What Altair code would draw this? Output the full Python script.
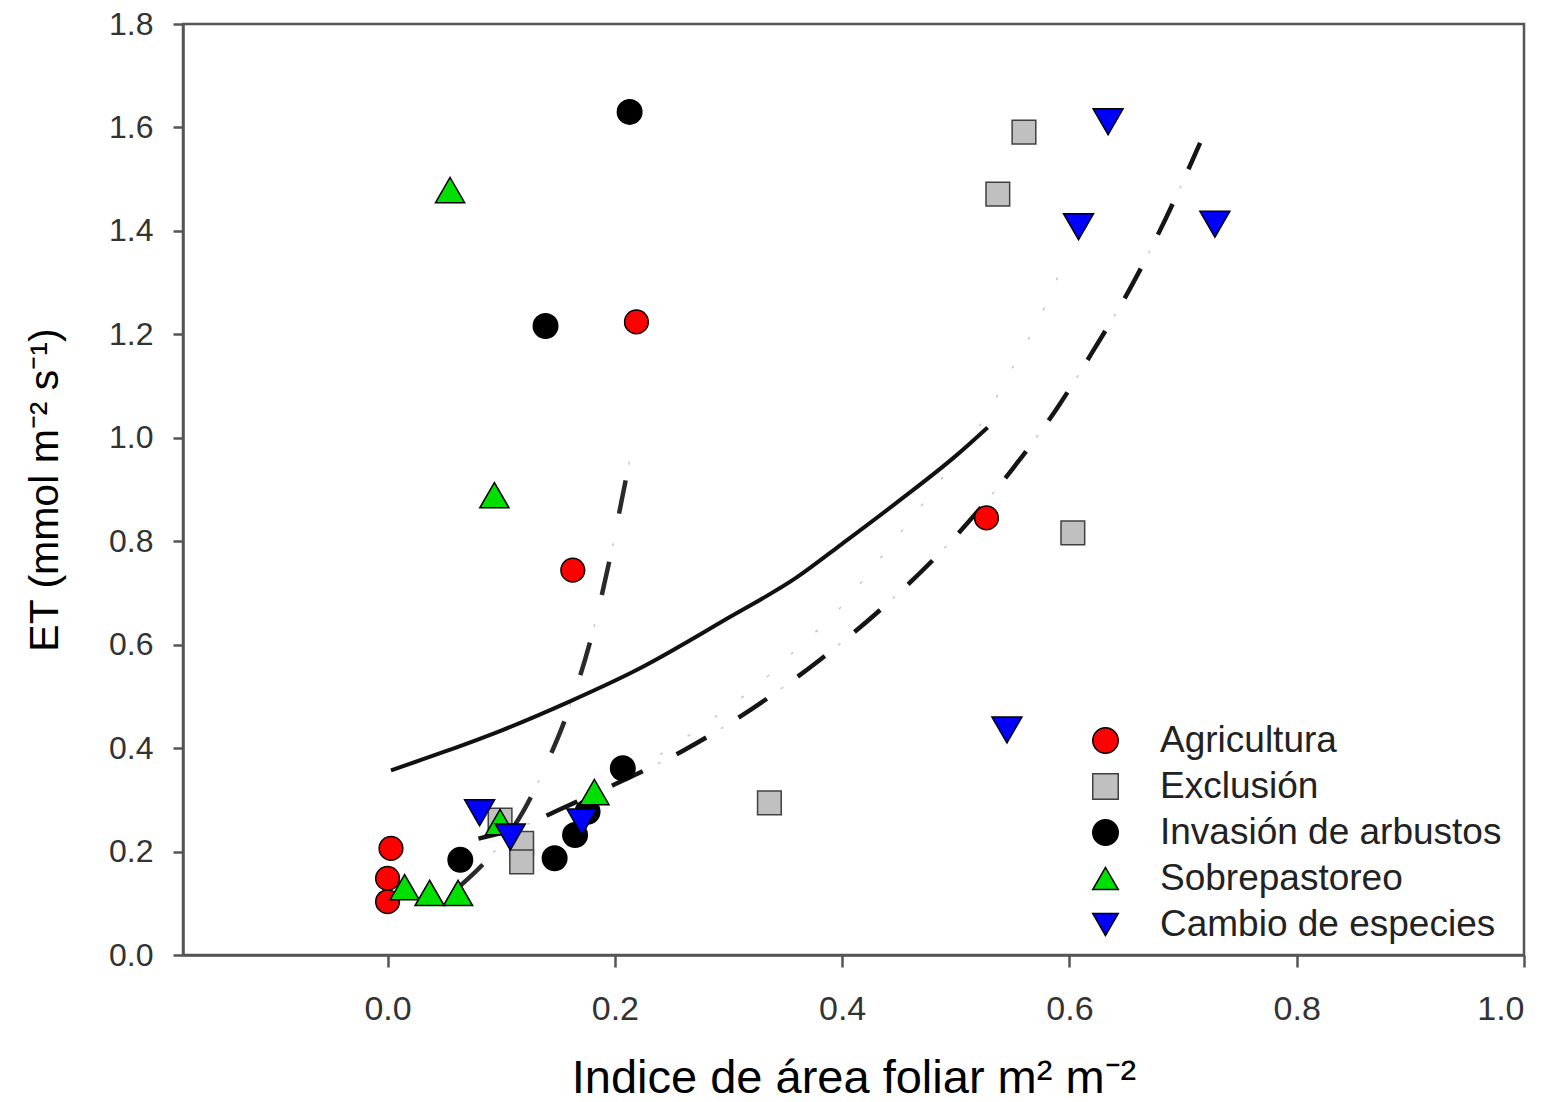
import altair as alt
import pandas as pd

# ---------------- data ----------------
groups = ["Agricultura", "Exclusión", "Invasión de arbustos", "Sobrepastoreo", "Cambio de especies"]
fills = ["#ff0000", "#c0c0c0", "#000000", "#00e000", "#0000ff"]
strokes = ["#000000", "#404040", "#000000", "#000000", "#000000"]
shapes = ["circle", "square", "circle", "triangle-up", "triangle-down"]
sizes = [560, 560, 600, 850, 900]

agri_x = [0.003, 0.000, 0.000, 0.163, 0.219, 0.527]
agri_y = [0.206, 0.148, 0.103, 0.744, 1.224, 0.845]

excl_x = [0.099, 0.118, 0.118, 0.336, 0.537, 0.560, 0.603]
excl_y = [0.261, 0.216, 0.180, 0.294, 1.471, 1.591, 0.816]

inv_x = [0.064, 0.147, 0.165, 0.176, 0.207, 0.139, 0.213]
inv_y = [0.184, 0.187, 0.232, 0.277, 0.361, 1.216, 1.630]

sobre_x = [0.015, 0.037, 0.062, 0.099, 0.182, 0.094, 0.055]
sobre_y = [0.131, 0.120, 0.120, 0.257, 0.315, 0.889, 1.479]

camb_x = [0.081, 0.108, 0.171, 0.545, 0.608, 0.634, 0.728]
camb_y = [0.275, 0.228, 0.257, 0.435, 1.408, 1.611, 1.413]

# fitted curves
solid_x = [0.003, 0.05, 0.10, 0.16, 0.22, 0.30, 0.36, 0.40, 0.45, 0.50, 0.528]
solid_y = [0.357, 0.393, 0.434, 0.49, 0.552, 0.652, 0.73, 0.795, 0.878, 0.965, 1.02]

lower_x = [0.08, 0.12, 0.15, 0.20, 0.26, 0.32, 0.38, 0.44, 0.50, 0.55, 0.59, 0.62, 0.655, 0.685, 0.715]
lower_y = [0.225, 0.25, 0.28, 0.33, 0.395, 0.475, 0.57, 0.68, 0.81, 0.94, 1.06, 1.165, 1.295, 1.425, 1.57]

steep_x = [0.062, 0.09, 0.12, 0.14, 0.157, 0.18, 0.196, 0.207, 0.217]
steep_y = [0.13, 0.19, 0.28, 0.37, 0.46, 0.62, 0.77, 0.89, 1.0]

faint_x = [0.215, 0.232, 0.281, 0.331, 0.362, 0.395, 0.422, 0.449, 0.485, 0.528, 0.554, 0.572, 0.597]
faint_y = [0.355, 0.377, 0.449, 0.532, 0.596, 0.663, 0.735, 0.81, 0.913, 1.048, 1.152, 1.224, 1.35]

x_ticks = [0.0, 0.2, 0.4, 0.6, 0.8, 1.0]
y_ticks = [0.0, 0.2, 0.4, 0.6, 0.8, 1.0, 1.2, 1.4, 1.6, 1.8]

# ---------------- tables ----------------
rows = []
for g, xs, ys in zip(groups, [agri_x, excl_x, inv_x, sobre_x, camb_x],
                     [agri_y, excl_y, inv_y, sobre_y, camb_y]):
    sz = sizes[groups.index(g)]
    for a, b in zip(xs, ys):
        rows.append({"x": a, "y": b, "grupo": g, "sz": sz})
pts = pd.DataFrame(rows)

def curve(xs, ys):
    return pd.DataFrame({"x": xs, "y": ys})

FONT = "Liberation Sans"
xscale = alt.Scale(domain=[-0.18, 1.0], nice=False, zero=False)
yscale = alt.Scale(domain=[0, 1.8], nice=False)

xaxis = alt.Axis(values=x_ticks, format=".1f", grid=False,
                 labelFont=FONT, labelFontSize=34, labelColor="#333333",
                 labelBaseline="alphabetic", labelPadding=52,
                 tickSize=12, tickColor="#555555", tickWidth=2.5,
                 domainColor="#555555", domainWidth=2.5,
                 title="Indice de área foliar m² m⁻²", titleFont=FONT,
                 titleFontSize=47, titleFontWeight="normal", titleColor="#000000",
                 titleBaseline="alphabetic", titleY=137)
yaxis = alt.Axis(values=y_ticks, format=".1f", grid=False,
                 labelFont=FONT, labelFontSize=32, labelColor="#333333",
                 labelPadding=20,
                 tickSize=10, tickColor="#555555", tickWidth=2.5,
                 domainColor="#555555", domainWidth=2.5,
                 title="ET (mmol m⁻² s⁻¹)", titleFont=FONT,
                 titleFontSize=41, titleFontWeight="normal", titleColor="#000000",
                 titleBaseline="alphabetic", titleX=-126)

def line_layer(df, color, width, dash=None, axes=False):
    kw = dict(interpolate="monotone", color=color, strokeWidth=width, strokeCap="butt")
    if dash is not None:
        kw["strokeDash"] = dash
    m = alt.Chart(df).mark_line(**kw)
    if axes:
        return m.encode(x=alt.X("x:Q", scale=xscale, axis=xaxis),
                        y=alt.Y("y:Q", scale=yscale, axis=yaxis))
    return m.encode(x=alt.X("x:Q", scale=xscale), y=alt.Y("y:Q", scale=yscale))

solid = line_layer(curve(solid_x, solid_y), "#111111", 4, axes=True)
faint = line_layer(curve(faint_x, faint_y), "#c4c4c4", 1.5, [3, 30])
lower_dots = line_layer(curve(lower_x, lower_y), "#c8c8c8", 1.5, [0, 51, 3, 18])
lower = line_layer(curve(lower_x, lower_y), "#151515", 4.5, [34, 38])
steep_dots = line_layer(curve(steep_x, steep_y), "#c8c8c8", 1.5, [0, 50, 3, 30])
steep = line_layer(curve(steep_x, steep_y), "#2a2a2a", 4.5, [34, 49])

points = alt.Chart(pts).mark_point(filled=True, opacity=1, strokeWidth=1.5).encode(
    x=alt.X("x:Q", scale=xscale),
    y=alt.Y("y:Q", scale=yscale),
    fill=alt.Fill("grupo:N", scale=alt.Scale(domain=groups, range=fills), title=None),
    stroke=alt.Stroke("grupo:N", scale=alt.Scale(domain=groups, range=strokes), title=None),
    shape=alt.Shape("grupo:N", scale=alt.Scale(domain=groups, range=shapes), title=None),
    size=alt.Size("sz:Q", scale=None, legend=None),
)

chart = alt.layer(faint, lower_dots, steep_dots, solid, lower, steep, points).properties(
    width=1341, height=931,
    autosize=alt.AutoSizeParams(type="none"),
    padding={"left": 183, "top": 24, "right": 32, "bottom": 147},
    background="white",
).configure_view(
    stroke="#555555", strokeWidth=2.5
).configure_legend(
    orient="none", legendX=898, legendY=692,
    symbolSize=650, symbolStrokeWidth=1.5,
    labelFont=FONT, labelFontSize=37, labelColor="#222222", labelLimit=0,
    labelOffset=36, rowPadding=8, padding=6,
    fillColor="white", strokeColor="white",
)

chart.save("out.html", embed_options={"renderer": "svg", "actions": False})
